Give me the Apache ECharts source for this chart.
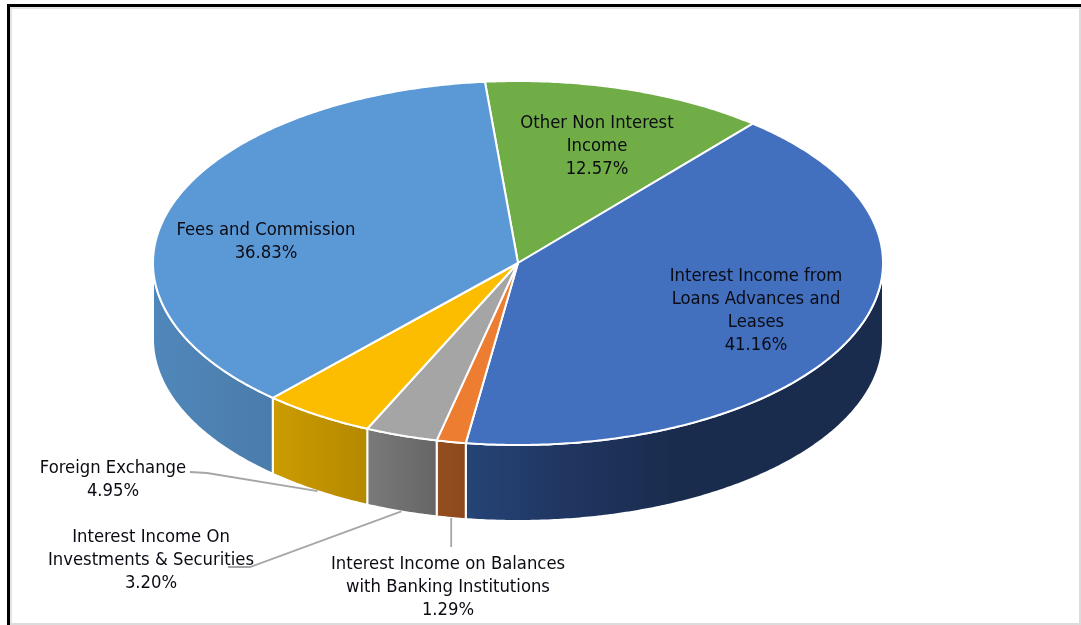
<!DOCTYPE html>
<html>
<head>
<meta charset="utf-8">
<style>html,body{margin:0;padding:0;background:#fff}#chart{width:1081px;height:625px}</style>
<script src="https://cdn.jsdelivr.net/npm/echarts@6/dist/echarts.min.js"></script>
</head>
<body>
<div id="chart"></div>
<script>
// Income mix, clockwise from the slice at the top of the pie
const categories = [
  'Other Non Interest\nIncome',
  'Interest Income from\nLoans Advances and\nLeases',
  'Interest Income on Balances\nwith Banking Institutions',
  'Interest Income On\nInvestments & Securities',
  'Foreign Exchange',
  'Fees and Commission'
];
const shares = [12.57, 41.16, 1.29, 3.20, 4.95, 36.83];
const topColors = ['#70AD47', '#4270BF', '#ED7D31', '#A5A5A5', '#FCBD00', '#5B99D6'];
const wallStops = [
  [[0, '#70AD47'], [1, '#70AD47']],
  [[0, '#264477'], [0.25, '#203560'], [0.5, '#1A2C4E'], [1, '#1A2C4E']],
  [[0, '#944E20'], [1, '#8C481C']],
  [[0, '#7A7A7A'], [1, '#656565']],
  [[0, '#CC9C00'], [1, '#B48800']],
  [[0, '#5087BA'], [1, '#4A7CAB']]
];

// Drawing geometry of the tilted disc
const cx = 518, cy = 263, rx = 365, ry = 182, depth = 76;
const startDeg = -5.2;
const FONT = '"DejaVu Sans Condensed", "DejaVu Sans", sans-serif';

// Text anchors; a leader runs from the label side to the slice's lower edge
const labelAnchors = [
  { x: 597, y: 146 },
  { x: 756, y: 311 },
  { x: 448, y: 587 },
  { x: 151, y: 560 },
  { x: 113, y: 480 },
  { x: 266, y: 242 }
];
const leaders = [
  null,
  null,
  { dropTo: 547 },
  { from: [228, 567], elbow: [250, 567] },
  { from: [190, 472], elbow: [207, 473] },
  null
];

const total = shares.reduce((a, b) => a + b, 0);
const pt = (deg, drop) => {
  const r = deg * Math.PI / 180;
  return [cx + rx * Math.sin(r), cy - ry * Math.cos(r) + (drop || 0)];
};
const arc = (a, b, drop) => {
  const out = [], n = Math.max(2, Math.ceil(Math.abs(b - a) * 2));
  for (let i = 0; i <= n; i++) out.push(pt(a + (b - a) * i / n, drop));
  return out;
};
const spans = [];
shares.reduce((acc, v) => {
  const next = acc + v / total * 360;
  spans.push([acc, next]);
  return next;
}, startDeg);

function renderSlice(params, api) {
  const i = api.value(0);
  const [a, b] = spans[i];
  const children = [];
  // Front wall: only the part of the rim facing the viewer
  const wa = Math.max(a, 90), wb = Math.min(b, 270);
  if (wb > wa) {
    children.push({
      type: 'polygon',
      z2: 1,
      shape: { points: arc(wa, wb, 0).concat(arc(wb, wa, depth)) },
      style: {
        fill: new echarts.graphic.LinearGradient(0, 0, 1, 0,
          wallStops[i].map(([offset, color]) => ({ offset, color }))),
        stroke: '#fff', lineWidth: 2, lineJoin: 'round'
      }
    });
  }
  children.push({
    type: 'polygon',
    z2: 2,
    shape: { points: [[cx, cy]].concat(arc(a, b, 0)) },
    style: { fill: topColors[i], stroke: '#fff', lineWidth: 2, lineJoin: 'round' }
  });
  const lead = leaders[i];
  if (lead) {
    const end = pt((a + b) / 2, depth);
    const points = lead.dropTo
      ? [[end[0], end[1]], [end[0], lead.dropTo]]
      : [lead.from, lead.elbow, end];
    children.push({
      type: 'polyline',
      z2: 3,
      shape: { points },
      style: { fill: null, stroke: '#A6A6A6', lineWidth: 1.8 }
    });
  }
  children.push({
    type: 'text',
    z2: 4,
    style: {
      x: labelAnchors[i].x, y: labelAnchors[i].y,
      text: categories[i] + '\n' + shares[i].toFixed(2) + '%',
      align: 'center', verticalAlign: 'middle',
      font: '18.3px ' + FONT, lineHeight: 23, fill: '#0B0B14'
    }
  });
  return { type: 'group', children };
}

const chart = echarts.init(document.getElementById('chart'), null, { renderer: 'canvas' });
chart.setOption({
  animation: false,
  backgroundColor: '#fff',
  graphic: [
    { type: 'rect', shape: { x: 10, y: 7, width: 1069, height: 2 }, style: { fill: '#E4E4E4' }, silent: true },
    { type: 'rect', shape: { x: 10, y: 7, width: 2, height: 616 }, style: { fill: '#E4E4E4' }, silent: true },
    { type: 'rect', shape: { x: 7, y: 4, width: 1074, height: 3 }, style: { fill: '#000' }, silent: true },
    { type: 'rect', shape: { x: 7, y: 4, width: 3, height: 621 }, style: { fill: '#000' }, silent: true },
    { type: 'rect', shape: { x: 1079, y: 7, width: 2, height: 618 }, style: { fill: '#DCDCDC' }, silent: true },
    { type: 'rect', shape: { x: 10, y: 623, width: 1071, height: 2 }, style: { fill: '#DCDCDC' }, silent: true }
  ],
  series: [{
    type: 'custom',
    coordinateSystem: 'none',
    renderItem: renderSlice,
    data: shares.map((v, i) => [i, v]),
    silent: true
  }]
});
</script>
</body>
</html>
